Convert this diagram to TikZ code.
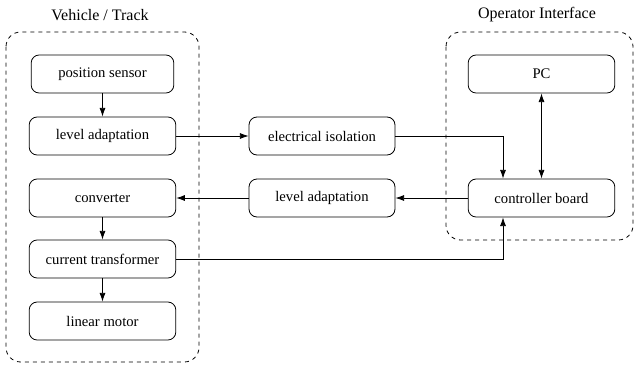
\documentclass[tikz,border=0pt]{standalone}
\usepackage{fontspec}
\setmainfont{Liberation Serif}
\usetikzlibrary{arrows.meta,positioning}

\tikzset{
  unit/.style={draw, rounded corners=6pt, minimum width=110pt, minimum height=28.5pt,
    inner sep=2pt, line width=0.6pt, font=\fontsize{11}{13}\selectfont},
  group/.style={draw, dashed, rounded corners=11pt, line width=0.6pt},
  flow/.style={-{Latex[length=6.5pt,width=4.5pt]}, line width=0.6pt},
  title/.style={font=\fontsize{12}{14}\selectfont}
}

\begin{document}
\begin{tikzpicture}[x=0.75pt, y=-0.75pt]
        \useasboundingbox (0,0) rectangle (634,364);
        % groups
        \draw[group] (6,32) rectangle (199,362);
        \draw[group] (446,32) rectangle (633,240);
        \node[title] (vt) at (100,15) {Vehicle / Track};
        \node[title] (oi) at (537,15) {Operator Interface};
        % vehicle side
        \node[unit, minimum width=107pt] (pos) at (102.5,74) {position sensor};
        \node[unit] (lvlv) at (102.5,136) {level adaptation};
        \node[unit] (conv) at (102.5,198) {converter};
        \node[unit] (ct) at (102.5,259) {current transformer};
        \node[unit] (lm) at (102.5,321) {linear motor};
        % middle
        \node[unit, minimum width=109.5pt] (iso) at (322,136) {electrical isolation};
        \node[unit, minimum width=109.5pt] (lvlo) at (322,198) {level adaptation};
        % operator side
        \node[unit] (pc) at (541.5,74) {PC};
        \node[unit] (cb) at (541.5,198) {controller board};
        \coordinate (isoc) at (503,136);
        \coordinate (ctc) at (503,259);
        % connections
        \draw[flow] (pos) -- (lvlv);
        \draw[flow] (lvlv) -- (iso);
        \draw[flow] (iso.east) -- (isoc) -- (isoc |- cb.north);
        \draw[flow, {Latex[length=6.5pt,width=4.5pt]}-{Latex[length=6.5pt,width=4.5pt]}] (pc) -- (cb);
        \draw[flow] (cb) -- (lvlo);
        \draw[flow] (lvlo) -- (conv);
        \draw[flow] (conv) -- (ct);
        \draw[flow] (ct) -- (lm);
        \draw[flow] (ct.east) -- (ctc) -- (ctc |- cb.south);
\end{tikzpicture}
\end{document}
